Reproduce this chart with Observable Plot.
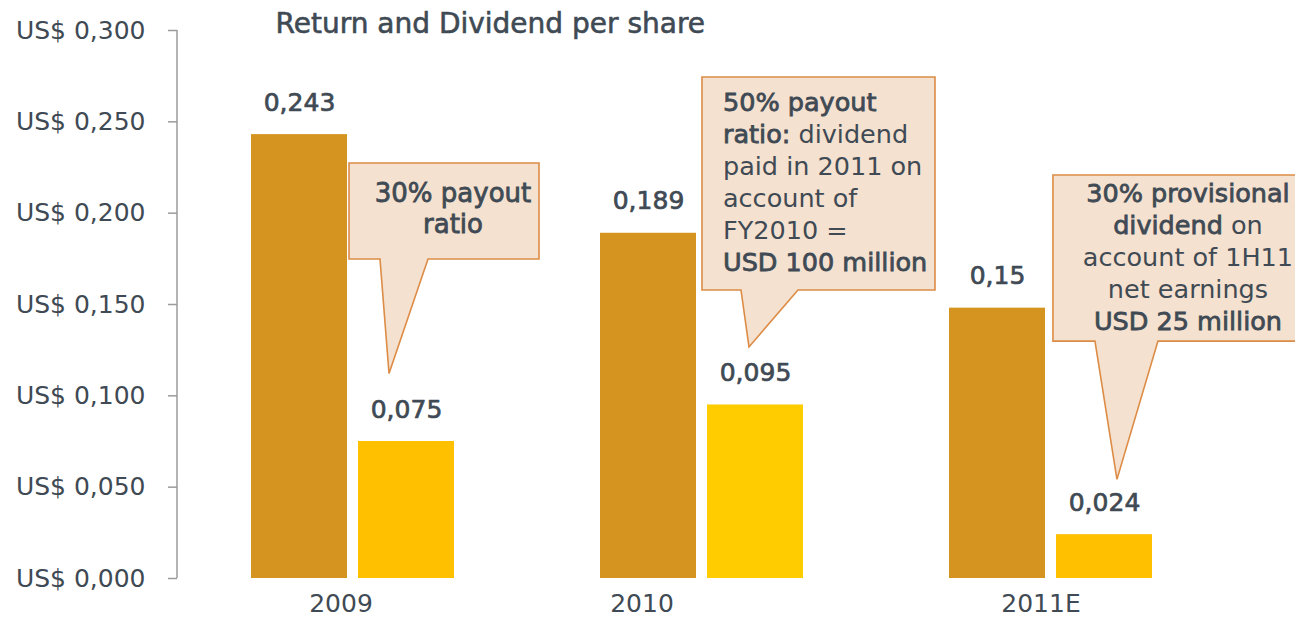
<!DOCTYPE html>
<html><head><meta charset="utf-8">
<script src="https://cdn.jsdelivr.net/npm/d3@7"></script>
<script src="https://cdn.jsdelivr.net/npm/@observablehq/plot@0.6"></script>
<style>html,body{margin:0;padding:0;background:#fff;} #chart svg{display:block;}</style>
</head><body><div id="chart"></div>
<script>
// ---- data ----
const years = ["2009", "2010", "2011E"];
const returnPerShare = [0.243, 0.189, 0.148];
const dividendPerShare = [0.075, 0.095, 0.024];
const returnLabels = ["0,243", "0,189", "0,15"];
const dividendLabels = ["0,075", "0,095", "0,024"];
const yTicks = [0, 0.05, 0.1, 0.15, 0.2, 0.25, 0.3];
const title = "Return and Dividend per share";
const calloutYears = ["2009", "2010", "2011E"];
const calloutTips = [0.112, 0.1265, 0.054];
const calloutLines = [
  [[["30% payout", true]], [["ratio", true]]],
  [[["50% payout", true]], [["ratio:", true], [" dividend", false]], [["paid in 2011 on", false]], [["account of", false]], [["FY2010 =", false]], [["USD 100 million", true]]],
  [[["30% provisional", true]], [["dividend", true], [" on", false]], [["account of 1H11", false]], [["net earnings", false]], [["USD 25 million", true]]]
];

// ---- style ----
const W = 1295, H = 626;
const textColor = "#3f4a54";
const returnColor = "#D4941F";
const dividendColors = ["#FFC000", "#FFCC00", "#FFC000"];
const xLabelNudge = [-12, -60, -10];
const bubbleFill = "#F5E1CF", bubbleStroke = "#DC8C46";
const calloutGeom = [
  {x1: 99, x2: 289, top: 0.2272, bottom: 0.1746, b1: 130, b2: 178, tipX: 139, textX: 203, anchor: "middle", firstDy: 30, lh: 31, fs: 26},
  {x1: 102, x2: 335, top: 0.2743, bottom: 0.1577, b1: 141, b2: 198, tipX: 149, textX: 123, anchor: "start", firstDy: 25, lh: 32, fs: 25.5},
  {x1: 103, x2: 362, top: 0.2206, bottom: 0.1297, b1: 145, b2: 208, tipX: 167, textX: 238, anchor: "middle", firstDy: 18, lh: 32, fs: 25.5}
];

const returnRows = years.map((yr, i) => ({year: yr, value: returnPerShare[i], label: returnLabels[i]}));
const dividendRows = years.map((yr, i) => ({year: yr, value: dividendPerShare[i], label: dividendLabels[i], color: dividendColors[i]}));
const fmt = d => "US$ " + d.toFixed(3).replace(".", ",");

const plot = Plot.plot({
  width: W, height: H,
  marginLeft: 177, marginRight: 68, marginTop: 30, marginBottom: 48,
  style: {fontFamily: "DejaVu Sans, sans-serif", background: "#fff", color: textColor},
  x: {type: "band", domain: years, paddingInner: 0.417, paddingOuter: 0.2086, align: 0.5, axis: null},
  y: {domain: [0, 0.3], axis: null},
  color: {type: "identity"},
  marks: [
    Plot.axisY({ticks: yTicks, tickFormat: fmt, tickSize: 9, tickPadding: 23, fontSize: 25, stroke: "#9b9b9b", strokeWidth: 1.5, fill: textColor, label: null}),
    Plot.barY(returnRows, {x: "year", y: "value", fill: returnColor, insetRight: 107}),
    Plot.barY(dividendRows, {x: "year", y: "value", fill: "color", insetLeft: 107}),
    Plot.text(returnRows, {x: "year", y: "value", text: "label", dx: -53.5, dy: -32, fontSize: 25, fill: textColor, stroke: textColor, strokeWidth: 0.7}),
    Plot.text(dividendRows, {x: "year", y: "value", text: "label", dx: 53.5, dy: -32, fontSize: 25, fill: textColor, stroke: textColor, strokeWidth: 0.7}),
    ...years.map((yr, i) => Plot.text([yr], {x: d => d, frameAnchor: "bottom", dy: 33, dx: xLabelNudge[i], fontSize: 25, fill: textColor})),
    Plot.text([title], {frameAnchor: "top-left", dx: 98, dy: -6, textAnchor: "start", lineAnchor: "middle", fontSize: 28, fill: textColor, stroke: textColor, strokeWidth: 0.6})
  ]
});
document.getElementById("chart").appendChild(plot);

// ---- overlay: axis line and callouts, positioned through the plot's scales ----
const svg = plot.tagName.toLowerCase() === "svg" ? plot : plot.querySelector("svg");
const xd = plot.scale("x"), yd = plot.scale("y");
const x = d3.scaleBand(xd.domain, xd.range)
  .paddingInner(xd.paddingInner ?? 0.417).paddingOuter(xd.paddingOuter ?? 0.2086).align(xd.align ?? 0.5);
const y = d3.scaleLinear(yd.domain, yd.range);
const g = d3.select(svg).append("g");
g.append("line").attr("x1", 177).attr("x2", 177).attr("y1", y(0.3)).attr("y2", y(0))
  .attr("stroke", "#9b9b9b").attr("stroke-width", 1.5);

calloutYears.forEach((yr, i) => {
  const c = calloutGeom[i];
  const bx = x(yr);
  const top = y(c.top), bot = y(c.bottom);
  const pts = [[bx + c.x1, top], [bx + c.x2, top], [bx + c.x2, bot], [bx + c.b2, bot], [bx + c.tipX, y(calloutTips[i])], [bx + c.b1, bot], [bx + c.x1, bot]];
  g.append("path").attr("d", "M" + pts.map(p => p.join(",")).join("L") + "Z")
    .attr("fill", bubbleFill).attr("stroke", bubbleStroke).attr("stroke-width", 1.6).attr("stroke-linejoin", "miter");
  calloutLines[i].forEach((line, j) => {
    const t = g.append("text").attr("x", bx + c.textX).attr("y", top + c.firstDy + j * c.lh)
      .attr("dominant-baseline", "central").attr("text-anchor", c.anchor)
      .attr("font-family", "DejaVu Sans, sans-serif").attr("font-size", c.fs).attr("fill", textColor);
    line.forEach(([s, bold]) => {
      const ts = t.append("tspan").text(s);
      if (bold) ts.attr("stroke", textColor).attr("stroke-width", 0.8).attr("paint-order", "stroke");
    });
  });
});
</script>
</body></html>
